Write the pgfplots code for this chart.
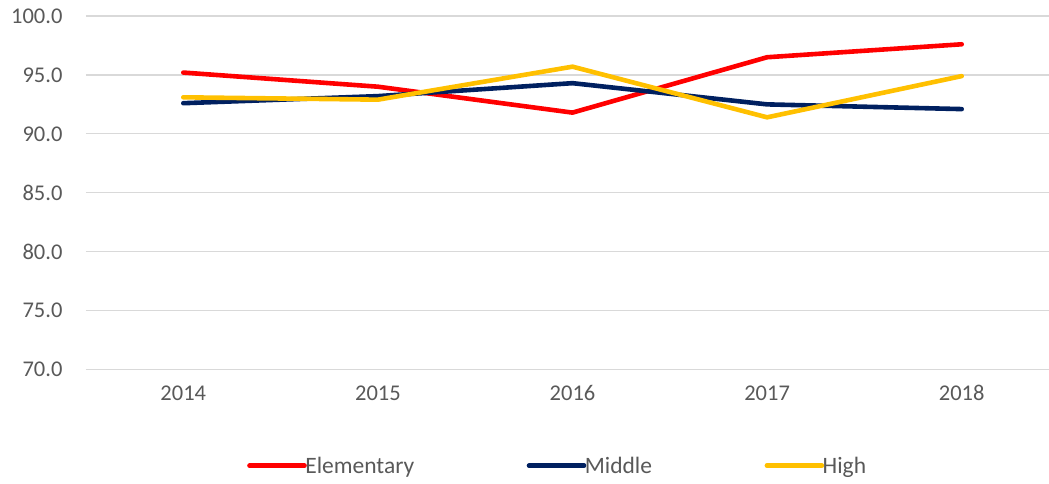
\documentclass[border=0pt]{standalone}
\usepackage{pgfplots}
\pgfplotsset{compat=1.18}
\usepackage{fontspec}
\setmainfont{Carlito}
\definecolor{cRed}{HTML}{FF0000}
\definecolor{cNavy}{HTML}{002060}
\definecolor{cGold}{HTML}{FFC000}
\definecolor{cText}{HTML}{595959}
\definecolor{cGrid}{HTML}{D9D9D9}
\begin{document}
\begin{tikzpicture}
\useasboundingbox (-86bp,-114.5bp) rectangle (963bp,369.5bp);
\begin{axis}[
  scale only axis,
  width=973bp, height=353.5bp,
  xmin=2013.5, xmax=2018.5,
  ymin=70, ymax=100,
  xtick={2014,2015,2016,2017,2018},
  xticklabels={2014,2015,2016,2017,2018},
  ytick={70,75,80,85,90,95,100},
  yticklabel={\pgfmathprintnumber[fixed,fixed zerofill,precision=1]{\tick}},
  /pgf/number format/assume math mode=true,
  axis line style={draw=none},
  ymajorgrids,
  grid style={cGrid, line width=1.2bp},
  major tick length=0pt,
  tick label style={font=\fontsize{22.5bp}{26bp}\selectfont, text=cText},
  yticklabel style={xshift=-20bp},
  xticklabel style={yshift=-12bp, text height=15bp, text depth=0bp},
  every axis plot/.append style={line width=4.6bp, line cap=round, line join=round},
  legend columns=3,
  legend style={at={(0.484,-0.272)}, anchor=center, draw=none, fill=none,
    font=\fontsize{23.5bp}{27bp}\selectfont, text=cText,
    /tikz/every even column/.append style={column sep=112bp},
    /tikz/every odd column/.append style={column sep=0bp},
    nodes={inner xsep=0.5bp}},
  legend cell align=left,
  legend image code/.code={\draw[#1, line cap=round] (0bp,0bp) -- (53bp,0bp);
    \draw[#1, line cap=round, overlay] (53bp,0bp) -- (55bp,0bp);},
  clip=false,
]
\addplot[cRed] coordinates {(2014,95.2) (2015,94.0) (2016,91.8) (2017,96.5) (2018,97.6)};
\addlegendentry{Elementary}
\addplot[cNavy] coordinates {(2014,92.6) (2015,93.2) (2016,94.3) (2017,92.5) (2018,92.1)};
\addlegendentry{Middle}
\addplot[cGold] coordinates {(2014,93.1) (2015,92.9) (2016,95.7) (2017,91.4) (2018,94.9)};
\addlegendentry{High}
\end{axis}
\end{tikzpicture}
\end{document}
